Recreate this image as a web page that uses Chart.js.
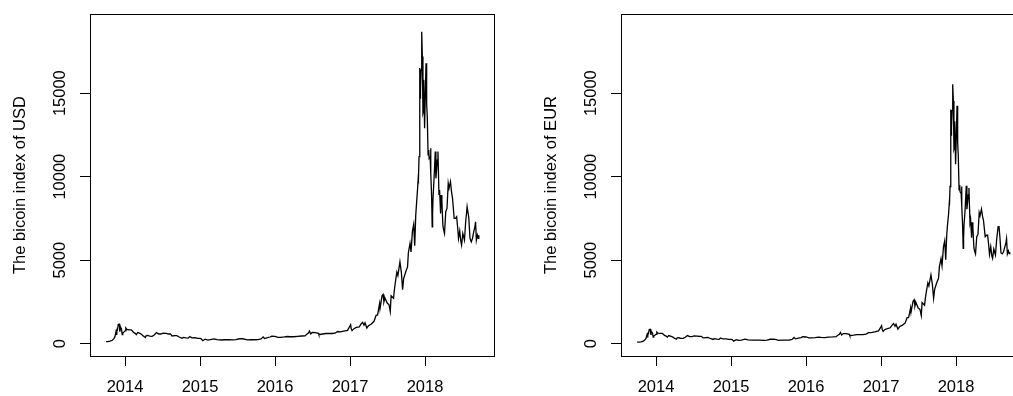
<!DOCTYPE html>
<html>
<head>
<meta charset="utf-8">
<script src="https://cdn.jsdelivr.net/npm/chart.js@4.4.1/dist/chart.umd.min.js"></script>
<style>
  html, body { margin: 0; padding: 0; background: #fff; overflow: hidden; width: 1013px; height: 396px; }
  .panel { position: absolute; top: 0; width: 506px; height: 396px; }
  #p1 { left: 0; }
  #p2 { left: 531px; }
</style>
</head>
<body>
<div class="panel" id="p1"><canvas id="c1" width="506" height="396"></canvas></div>
<div class="panel" id="p2"><canvas id="c2" width="506" height="396"></canvas></div>
<script>
// ---- data ----
const dates = [
"2013-10-01","2013-10-10","2013-10-20","2013-10-31","2013-11-07","2013-11-13","2013-11-18","2013-11-19","2013-11-22","2013-11-25",
"2013-11-29","2013-12-04","2013-12-07","2013-12-10","2013-12-15","2013-12-18","2013-12-21","2013-12-25","2014-01-01","2014-01-05",
"2014-01-10","2014-01-20","2014-01-31","2014-02-06","2014-02-11","2014-02-19","2014-02-25","2014-03-04","2014-03-12","2014-03-22",
"2014-03-31","2014-04-10","2014-04-14","2014-04-22","2014-05-01","2014-05-13","2014-05-23","2014-06-03","2014-06-14","2014-06-25",
"2014-07-05","2014-07-20","2014-07-31","2014-08-10","2014-08-18","2014-08-31","2014-09-10","2014-09-22","2014-10-05","2014-10-12",
"2014-10-25","2014-11-04","2014-11-12","2014-11-22","2014-12-08","2014-12-20","2015-01-01","2015-01-07","2015-01-14","2015-01-26",
"2015-02-08","2015-02-20","2015-03-10","2015-03-25","2015-04-14","2015-05-01","2015-05-20","2015-06-10","2015-06-25","2015-07-11",
"2015-07-28","2015-08-10","2015-08-20","2015-09-05","2015-09-25","2015-10-10","2015-10-25","2015-11-04","2015-11-11","2015-11-25",
"2015-12-08","2015-12-16","2016-01-01","2016-01-15","2016-01-28","2016-02-15","2016-03-01","2016-03-15","2016-04-01","2016-04-20",
"2016-05-10","2016-05-27","2016-06-01","2016-06-12","2016-06-17","2016-06-23","2016-07-01","2016-07-15","2016-07-31","2016-08-02",
"2016-08-20","2016-09-05","2016-09-20","2016-10-05","2016-10-20","2016-11-01","2016-11-15","2016-12-01","2016-12-20","2016-12-28",
"2017-01-04","2017-01-07","2017-01-11","2017-01-20","2017-02-01","2017-02-15","2017-02-24","2017-03-03","2017-03-10","2017-03-15",
"2017-03-24","2017-04-01","2017-04-15","2017-04-28","2017-05-08","2017-05-15","2017-05-20","2017-05-25","2017-05-27","2017-06-06",
"2017-06-11","2017-06-15","2017-06-20","2017-07-01","2017-07-10","2017-07-16","2017-07-20","2017-08-01","2017-08-05","2017-08-12",
"2017-08-17","2017-08-22","2017-09-01","2017-09-08","2017-09-14","2017-09-19","2017-09-30","2017-10-08","2017-10-12","2017-10-20",
"2017-10-25","2017-11-01","2017-11-07","2017-11-12","2017-11-17","2017-11-20","2017-11-26","2017-11-29","2017-11-30","2017-12-03",
"2017-12-06","2017-12-07","2017-12-09","2017-12-10","2017-12-13","2017-12-15","2017-12-17","2017-12-19","2017-12-22","2017-12-24",
"2017-12-26","2017-12-30","2018-01-02","2018-01-06","2018-01-09","2018-01-12","2018-01-16","2018-01-19","2018-01-21","2018-01-26",
"2018-01-28","2018-01-30","2018-02-02","2018-02-05","2018-02-07","2018-02-09","2018-02-14","2018-02-20","2018-02-23","2018-03-02",
"2018-03-05","2018-03-10","2018-03-13","2018-03-18","2018-03-20","2018-03-24","2018-03-29","2018-04-01","2018-04-06","2018-04-12",
"2018-04-18","2018-04-24","2018-04-28","2018-05-05","2018-05-10","2018-05-15","2018-05-23","2018-05-29","2018-06-04","2018-06-10",
"2018-06-13","2018-06-19","2018-06-24","2018-06-28","2018-07-04","2018-07-12","2018-07-18","2018-07-25","2018-07-29","2018-08-02",
"2018-08-08","2018-08-14","2018-08-20","2018-08-26","2018-09-01","2018-09-04","2018-09-08","2018-09-13","2018-09-17","2018-09-20"
];
const usdValues = [
123,125,150,205,290,420,710,560,820,810,
1150,1170,720,1000,870,550,620,680,770,940,
860,830,830,760,680,620,540,670,630,570,
460,370,480,490,450,440,520,660,580,580,
630,620,580,590,460,480,480,400,320,380,
350,330,430,350,360,320,315,290,180,270,
220,245,290,245,220,235,235,230,245,295,
295,265,225,235,235,245,285,410,310,360,
400,455,435,380,380,405,430,415,415,440,
460,470,535,640,760,590,675,665,620,540,
580,610,610,610,630,730,710,750,800,975,
1130,890,780,900,980,1010,1180,1280,1110,1250,
940,1080,1180,1340,1700,1720,2050,2400,2100,2870,
2950,2500,2740,2430,2330,1930,2870,2720,3230,3880,
4280,4080,4900,4260,3230,3900,4340,4600,5440,6000,
5500,6750,7150,5860,7700,8250,9300,9900,9850,11200,
13800,16500,14700,15200,16400,17700,18680,17200,13800,13900,
15800,12900,14700,16790,14400,13600,11300,11600,11100,11200,
11700,10200,8900,7000,7800,8700,9900,11500,9900,11000,
11500,8900,9200,7800,8900,8600,7100,6850,6600,7900,
8100,9600,9300,9700,9100,8700,7500,7500,7600,6800,
6300,6750,6150,5900,6600,6200,7300,8200,8200,7550,
6300,6100,6300,6700,7000,7300,6200,6500,6300,6500
];
const eurValues = [
91,92,110,151,215,312,526,415,605,598,
846,860,526,727,633,400,453,496,560,691,
630,613,615,559,498,451,393,487,453,413,
333,266,348,355,324,321,382,485,428,426,
463,459,433,440,345,366,371,312,255,301,
276,264,346,283,292,262,260,245,153,241,
194,215,267,224,208,210,212,204,219,265,
267,241,201,211,210,216,259,376,288,339,
367,416,401,349,349,363,396,374,364,389,
404,422,479,568,674,522,608,602,555,482,
512,547,547,545,575,664,662,704,769,933,
1081,844,736,841,909,953,1115,1205,1040,1168,
870,1012,1112,1229,1555,1564,1830,2143,1878,2547,
2634,2242,2462,2132,2044,1683,2468,2305,2747,3288,
3643,3458,4118,3541,2714,3250,3678,3918,4598,5093,
4661,5804,6164,5026,6525,7021,7795,8354,8277,9412,
11695,14019,12489,12914,13957,15064,15530,14527,11636,11720,
13311,10750,12199,14250,12040,11286,9217,9493,9083,9010,
9413,8226,7137,5710,6362,7102,7952,9450,8055,8929,
9327,7230,7431,6347,7265,6964,5763,5560,5375,6412,
6548,7850,7667,8060,7634,7354,6410,6494,6496,5777,
5348,5819,5274,5104,5665,5313,6271,7009,7050,6492,
5431,5379,5488,5766,6034,6282,5368,5556,5394,5480
];
const xTickYears = [2014, 2015, 2016, 2017, 2018];
const yTickValues = [0, 5000, 10000, 15000];
const usdTitle = "The bicoin index of USD";
const eurTitle = "The bicoin index of EUR";

// ---- helpers ----
function toYear(s) {
  const [y, m, d] = s.split("-").map(Number);
  const t = Date.UTC(y, m - 1, d);
  const t0 = Date.UTC(y, 0, 1), t1 = Date.UTC(y + 1, 0, 1);
  return y + (t - t0) / (t1 - t0);
}
const xYears = dates.map(toYear);

const FONT = '"Liberation Sans", Arial, Helvetica, sans-serif';
Chart.defaults.font.family = FONT;
Chart.defaults.color = '#000';

const boxAndLabels = {
  id: 'boxAndLabels',
  afterDraw(chart) {
    const {ctx, chartArea: a, scales: {y}} = chart;
    ctx.save();
    ctx.strokeStyle = '#000';
    ctx.lineWidth = 1;
    ctx.strokeRect(Math.round(a.left) + 0.5, Math.round(a.top) + 0.5,
                   Math.round(a.right - a.left), Math.round(a.bottom - a.top));
    ctx.fillStyle = '#000';
    ctx.font = '16.5px ' + FONT;
    ctx.textAlign = 'center';
    ctx.textBaseline = 'alphabetic';
    y.ticks.forEach(t => {
      const py = y.getPixelForValue(t.value);
      ctx.save();
      ctx.translate(65, py);
      ctx.rotate(-Math.PI / 2);
      ctx.fillText(String(t.value), 0, 0);
      ctx.restore();
    });
    ctx.restore();
  }
};

function makeChart(id, values, title) {
  const pts = xYears.map((x, i) => ({x, y: values[i]}));
  return new Chart(document.getElementById(id), {
    type: 'line',
    data: { datasets: [{ data: pts, borderColor: '#000', borderWidth: 1.3, pointRadius: 0, tension: 0, fill: false }] },
    options: {
      responsive: false,
      animation: false,
      devicePixelRatio: 1,
      parsing: false,
      layout: { padding: { top: 14, right: 12, left: 0, bottom: 0 } },
      plugins: { legend: { display: false }, tooltip: { enabled: false } },
      scales: {
        x: {
          type: 'linear', min: 2013.533, max: 2018.92,
          afterBuildTicks: s => { s.ticks = xTickYears.map(v => ({value: v})); },
          afterFit: s => { s.height = 40; },
          grid: { display: true, drawOnChartArea: false, drawTicks: true, tickLength: 10, color: '#000', lineWidth: 1 },
          border: { display: false },
          ticks: { color: '#000', font: { size: 16.5 }, padding: 12, maxRotation: 0, autoSkip: false,
                   callback: v => String(v) }
        },
        y: {
          type: 'linear', min: -737, max: 19740,
          afterBuildTicks: s => { s.ticks = yTickValues.map(v => ({value: v})); },
          afterFit: s => { s.width = 90; },
          grid: { display: true, drawOnChartArea: false, drawTicks: true, tickLength: 10, color: '#000', lineWidth: 1 },
          border: { display: false },
          ticks: { display: false },
          title: { display: true, text: title, color: '#000', font: { size: 16.5 }, padding: { top: 11, bottom: 0 } }
        }
      }
    },
    plugins: [boxAndLabels]
  });
}

makeChart('c1', usdValues, usdTitle);
makeChart('c2', eurValues, eurTitle);
</script>
</body>
</html>
